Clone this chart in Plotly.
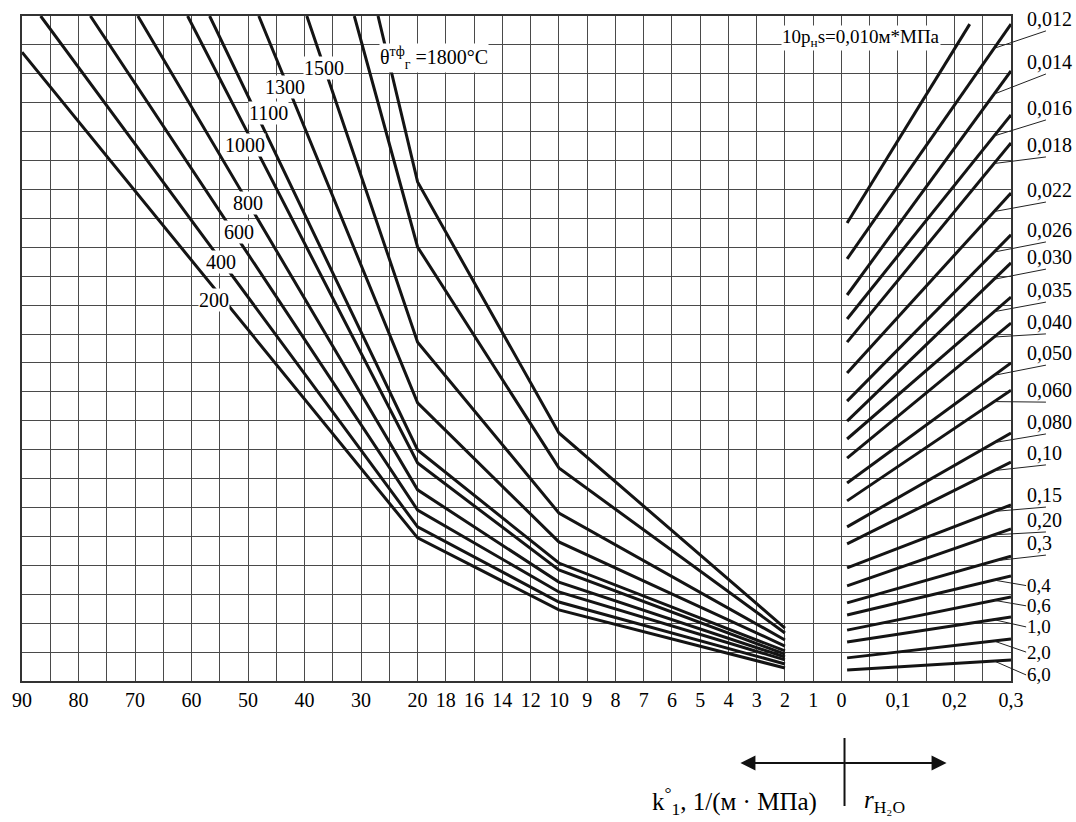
import plotly.graph_objects as go

# ---------------- axis scales ----------------
K_TICKS = [90, 80, 70, 60, 50, 40, 30, 20, 18, 16, 14, 12, 10, 9, 8, 7, 6, 5, 4, 3, 2, 1, 0]
R_TICKS = [0.1, 0.2, 0.3]
N_COLS = 35
N_ROWS = 23


def k_col(k):
    """Nomogram scale of k: 5 units per cell above 20, 2 per cell to 10, 1 per cell below."""
    if k >= 20:
        return (90 - k) / 5
    if k >= 10:
        return 14 + (20 - k) / 2
    return 19 + (10 - k)


def r_col(r):
    """Scale of r_H2O on the right part: 0.05 per cell starting at k = 0."""
    return k_col(0) + r / 0.05


# ---------------- left family: flame temperature ----------------
TEMP_TEXT = ["200", "400", "600", "800", "1000", "1100", "1300", "1500", None,
             "θ<sup>тф</sup><sub>г</sub> =1800°C"]
K_START = [90, 86.7, 77.9, 69.5, 60.7, 56.8, 48.1, 39.6, 31.2, 27.0]
Y_START = [21.75, 23, 23, 23, 23, 23, 23, 23, 23, 23]
K_BREAK = [20, 10, 2]
Y_AT_K20 = [4.95, 5.33, 5.91, 6.61, 7.54, 7.99, 9.62, 11.72, 15.01, 17.26]
Y_AT_K10 = [2.46, 2.73, 3.08, 3.42, 3.84, 4.08, 4.81, 5.81, 7.37, 8.58]
Y_AT_K2 = [0.45, 0.59, 0.73, 0.83, 0.93, 1.04, 1.21, 1.42, 1.66, 1.83]
# label placement (grid units)
TEMP_LABEL_POS = [(6.80, 13.18), (7.05, 14.49), (7.68, 15.53), (8.00, 16.53), (7.89, 18.54),
                  (8.73, 19.65), (9.29, 20.54), (10.70, 21.20), None, (12.65, 21.55)]

# ---------------- right family: 10·p_n·s ----------------
PNS_TEXT = ["0,012", "0,014", "0,016", "0,018", "0,022", "0,026", "0,030", "0,035",
            "0,040", "0,050", "0,060", "0,080", "0,10", "0,15", "0,20", "0,3",
            "0,4", "0,6", "1,0", "2,0", "6,0"]
FIRST_PNS_TEXT = "10p<sub>н</sub>s=0,010м*МПа"
R_START = 0.01
R_END = 0.3
R_END_FIRST = 0.227
Y_R_START = [15.84, 14.60, 13.35, 12.52, 11.72, 10.65, 9.68, 8.99, 8.37, 7.71, 6.85,
             6.23, 5.33, 4.74, 3.91, 3.29, 2.70, 2.28, 1.76, 1.35, 0.80, 0.38]
Y_R_END = [22.72, 22.72, 21.10, 19.58, 18.61, 16.88, 15.43, 14.46, 13.28, 12.38, 11.00,
           10.06, 8.58, 7.57, 6.09, 5.26, 4.32, 3.63, 2.91, 2.21, 1.45, 0.73]
# label placement (grid units, text centre height)
PNS_LABEL_Y = [22.90, 21.41, 19.82, 18.54, 16.98, 15.60, 14.66, 13.52, 12.42, 11.34,
               10.06, 8.96, 7.89, 6.43, 5.57, 4.77, 3.30, 2.60, 1.87, 1.00, 0.21]
N_UPPER_LABELS = 16
LEADER_R = 0.27
LABEL_COL = 35.5

SERIF = "Liberation Serif"
INK = "#141414"
GRID = "#4a4a4a"

fig = go.Figure()

for i in range(len(K_START)):
    xs = [k_col(K_START[i])] + [k_col(k) for k in K_BREAK]
    ys = [Y_START[i], Y_AT_K20[i], Y_AT_K10[i], Y_AT_K2[i]]
    fig.add_trace(go.Scatter(x=xs, y=ys, mode="lines", line=dict(color=INK, width=3),
                             hoverinfo="skip", showlegend=False))

for i in range(len(Y_R_START)):
    r_end = R_END_FIRST if i == 0 else R_END
    fig.add_trace(go.Scatter(x=[r_col(R_START), r_col(r_end)], y=[Y_R_START[i], Y_R_END[i]],
                             mode="lines", line=dict(color=INK, width=3),
                             hoverinfo="skip", showlegend=False))

annotations = []
shapes = []

# temperature labels on white boxes
for txt, pos in zip(TEMP_TEXT, TEMP_LABEL_POS):
    if txt is None:
        continue
    last = txt.endswith("°C")
    annotations.append(dict(x=pos[0], y=pos[1], xref="x", yref="y", text=txt, showarrow=False,
                            xanchor="left" if last else "center", yanchor="middle",
                            bgcolor="white", borderpad=0,
                            font=dict(family=SERIF, size=20, color="black")))

annotations.append(dict(x=26.85, y=22.24, xref="x", yref="y", text=FIRST_PNS_TEXT,
                        showarrow=False, xanchor="left", yanchor="middle",
                        bgcolor="white", borderpad=0,
                        font=dict(family=SERIF, size=19, color="black")))

# labels of the right family with leader lines (paper coordinates: beyond the plot area)
px_per_col = 998 / N_COLS
px_per_row = 665 / N_ROWS
for j, txt in enumerate(PNS_TEXT):
    i = j + 1
    ly = PNS_LABEL_Y[j]
    annotations.append(dict(x=LABEL_COL / N_COLS, y=ly / N_ROWS, xref="paper", yref="paper",
                            text=txt, showarrow=False, xanchor="left", yanchor="middle",
                            font=dict(family=SERIF, size=20 if j < N_UPPER_LABELS else 19,
                                      color="black")))
    t = (LEADER_R - R_START) / (R_END - R_START)
    y_on = Y_R_START[i] + t * (Y_R_END[i] - Y_R_START[i])
    x_on = r_col(LEADER_R)
    if j < N_UPPER_LABELS:
        x_lab, y_lab = LABEL_COL + 21 / px_per_col, ly - 12 / px_per_row
    else:
        x_lab, y_lab = LABEL_COL + 1 / px_per_col, ly
    shapes.append(dict(type="line", xref="paper", yref="paper",
                       x0=x_on / N_COLS, y0=y_on / N_ROWS,
                       x1=x_lab / N_COLS, y1=y_lab / N_ROWS,
                       line=dict(color="#222", width=1)))


# bottom direction arrows and axis captions
def px_x(p):
    return (p - 13) / 998


def px_y(p):
    return (681 - p) / 665


mid_px, arr_py = 843, 763
for end in (738, 946):
    annotations.append(dict(x=px_x(end), y=px_y(arr_py), xref="paper", yref="paper",
                            ax=mid_px - end, ay=0, axref="pixel", ayref="pixel",
                            text="", showarrow=True, arrowhead=2, arrowsize=1.5,
                            arrowwidth=2, arrowcolor="#111", standoff=0, startstandoff=0))
shapes.append(dict(type="line", xref="paper", yref="paper", x0=px_x(mid_px), x1=px_x(mid_px),
                   y0=px_y(738), y1=px_y(806), line=dict(color="#111", width=2)))
annotations.append(dict(x=px_x(817), y=px_y(801), xref="paper", yref="paper",
                        text="k<sup>°</sup><sub>1</sub>, 1/(м · МПа)", showarrow=False,
                        xanchor="right", yanchor="middle",
                        font=dict(family=SERIF, size=25, color="black")))
annotations.append(dict(x=px_x(861), y=px_y(801), xref="paper", yref="paper",
                        text="<i>r</i><sub>H₂O</sub>", showarrow=False,
                        xanchor="left", yanchor="middle",
                        font=dict(family=SERIF, size=25, color="black")))

# x ticks: every grid column, labelled where the scale has a value
tick_text = {round(k_col(k), 6): str(k) for k in K_TICKS}
for r in R_TICKS:
    tick_text[round(r_col(r), 6)] = f"{r:.1f}".replace(".", ",")
tickvals = list(range(N_COLS + 1))
ticktext = [tick_text.get(float(c), "") for c in tickvals]

fig.update_layout(
    width=1076, height=822,
    margin=dict(l=13, r=65, t=16, b=141),
    paper_bgcolor="white", plot_bgcolor="white",
    showlegend=False,
    annotations=annotations,
    shapes=shapes,
    xaxis=dict(range=[0, N_COLS], tickvals=tickvals, ticktext=ticktext,
               showgrid=True, gridcolor=GRID, gridwidth=1.3, zeroline=False,
               showline=True, mirror=True, linecolor="#333", linewidth=1.5,
               ticks="", tickfont=dict(family=SERIF, size=20, color="black"),
               fixedrange=True),
    yaxis=dict(range=[0, N_ROWS], tickvals=list(range(N_ROWS + 1)), showticklabels=False,
               showgrid=True, gridcolor=GRID, gridwidth=1.3, zeroline=False,
               showline=True, mirror=True, linecolor="#333", linewidth=1.5,
               ticks="", fixedrange=True),
)

fig.write_html("out.html")
